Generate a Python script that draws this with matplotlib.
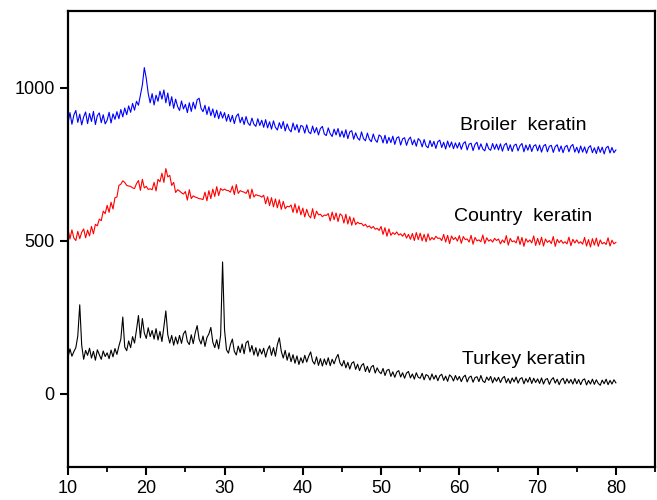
# Importing the libraries
import numpy as np
import matplotlib.pyplot as plt
from matplotlib.ticker import MultipleLocator

plt.rcParams['font.family'] = ['Liberation Sans', 'DejaVu Sans']

# 2-theta positions (degrees), one reading every 0.25 degree
two_theta = np.arange(10, 80.001, 0.25)

# Turkey keratin intensity
turkey = [
    118, 146, 122, 137, 150, 188, 290, 158, 112, 141, 125, 148, 116, 138, 109, 143, 127, 112, 139, 121,
    133, 114, 142, 120, 147, 128, 155, 178, 250, 152, 140, 172, 150, 186, 165, 208, 255, 182, 245, 198,
    180, 215, 186, 206, 178, 212, 175, 203, 170, 218, 270, 192, 165, 190, 158, 185, 162, 190, 164, 195,
    205, 170, 160, 192, 163, 198, 222, 178, 162, 188, 154, 183, 195, 216, 168, 150, 176, 146, 190, 430,
    208, 143, 132, 160, 178, 138, 126, 155, 134, 162, 130, 166, 172, 136, 157, 126, 150, 122, 146, 129,
    148, 119, 143, 156, 125, 150, 122, 160, 182, 138, 116, 141, 109, 133, 104, 127, 99, 123, 95, 117,
    100, 125, 103, 122, 136, 106, 96, 120, 92, 114, 90, 113, 94, 117, 91, 112, 97, 116, 128, 100,
    90, 108, 84, 102, 80, 99, 104, 79, 96, 75, 92, 98, 72, 89, 69, 87, 92, 67, 84, 71,
    65, 82, 59, 76, 79, 56, 71, 53, 70, 75, 54, 68, 50, 67, 72, 51, 64, 47, 68, 53,
    50, 66, 45, 62, 58, 44, 64, 47, 60, 42, 58, 63, 43, 57, 40, 61, 55, 41, 59, 44,
    56, 39, 54, 60, 38, 53, 57, 37, 52, 55, 39, 59, 41, 36, 54, 43, 56, 35, 52, 40,
    53, 36, 50, 56, 35, 49, 33, 51, 38, 54, 34, 48, 52, 32, 49, 37, 53, 33, 50, 36,
    48, 33, 51, 31, 46, 49, 30, 45, 52, 34, 47, 29, 44, 50, 32, 48, 34, 46, 31, 49,
    32, 46, 29, 44, 48, 28, 43, 31, 47, 30, 45, 33, 27, 44, 32, 47, 29, 43, 31, 45,
    35,
]

# Broiler keratin intensity
broiler = [
    884, 918, 880, 910, 925, 886, 913, 878, 904, 920, 882, 915, 889, 922, 879, 908, 917, 885, 911, 881,
    893, 919, 884, 914, 896, 921, 898, 928, 904, 933, 911, 940, 919, 948, 926, 955, 942, 975, 1008, 1065,
    1030, 980, 950, 980, 943, 975, 955, 988, 962, 992, 950, 982, 940, 970, 932, 962, 938, 925, 956, 930,
    945, 918, 950, 922, 952, 930, 960, 965, 932, 921, 942, 912, 937, 908, 930, 902, 926, 898, 921, 900,
    918, 890, 912, 888, 909, 882, 906, 914, 885, 903, 879, 905, 884, 876, 900, 880, 873, 898, 876, 893,
    870, 895, 868, 888, 864, 891, 870, 861, 885, 866, 889, 858, 881, 863, 855, 884, 861, 879, 853, 876,
    873, 851, 878, 855, 849, 874, 852, 869, 845, 866, 873, 848, 843, 868, 849, 840, 864, 845, 866, 839,
    858, 837, 862, 833, 855, 859, 831, 852, 835, 828, 855, 833, 826, 851, 831, 823, 848, 829, 821, 845,
    840, 819, 844, 817, 837, 820, 841, 814, 835, 839, 812, 832, 836, 811, 830, 838, 813, 829, 808, 833,
    826, 806, 830, 809, 803, 827, 807, 824, 801, 823, 828, 804, 821, 799, 825, 805, 822, 800, 819, 802,
    820, 798, 817, 823, 796, 815, 818, 794, 814, 821, 797, 816, 799, 793, 818, 800, 795, 817, 798, 815,
    796, 816, 792, 812, 818, 794, 813, 791, 811, 815, 793, 810, 817, 790, 812, 795, 814, 791, 809, 813,
    793, 812, 789, 809, 814, 790, 808, 811, 788, 807, 813, 791, 809, 787, 806, 811, 790, 808, 814, 789,
    805, 786, 809, 789, 806, 785, 804, 810, 787, 803, 784, 807, 788, 805, 783, 803, 808, 786, 804, 787,
    796,
]

# Country keratin intensity
country = [
    538, 505, 535, 508, 500, 530, 506, 527, 538, 509, 534, 515, 546, 522, 553, 548, 570, 565, 596, 588,
    615, 592, 625, 603, 640, 642, 680, 684, 695, 690, 680, 678, 677, 672, 670, 686, 696, 664, 700, 672,
    677, 667, 669, 666, 690, 662, 700, 692, 720, 690, 735, 708, 713, 680, 690, 657, 666, 662, 656, 652,
    660, 632, 666, 637, 646, 642, 640, 637, 636, 634, 658, 630, 663, 637, 668, 644, 676, 647, 670, 664,
    668, 664, 663, 658, 678, 650, 683, 654, 663, 660, 658, 654, 666, 637, 668, 642, 650, 647, 646, 642,
    648, 620, 643, 614, 640, 610, 636, 607, 633, 602, 628, 604, 612, 610, 616, 592, 620, 590, 613, 584,
    606, 577, 602, 582, 574, 604, 572, 596, 584, 586, 578, 583, 582, 588, 564, 593, 568, 590, 562, 587,
    582, 557, 586, 554, 578, 550, 574, 552, 560, 555, 556, 548, 553, 544, 548, 540, 546, 537, 540, 533,
    546, 520, 542, 514, 538, 517, 526, 520, 528, 518, 522, 514, 524, 508, 520, 504, 523, 500, 526, 503,
    524, 499, 520, 496, 522, 501, 510, 503, 514, 507, 508, 500, 520, 495, 517, 490, 515, 503, 510, 498,
    516, 491, 513, 503, 505, 495, 517, 488, 510, 499, 502, 496, 518, 490, 509, 498, 503, 495, 507, 500,
    505, 489, 502, 493, 516, 485, 507, 496, 499, 492, 514, 487, 510, 481, 506, 495, 502, 492, 515, 484,
    507, 486, 511, 482, 505, 494, 500, 490, 513, 481, 504, 493, 501, 491, 496, 489, 511, 483, 504, 492,
    502, 491, 496, 488, 510, 482, 503, 479, 506, 485, 508, 481, 502, 489, 494, 487, 509, 482, 501, 489,
    494,
]

fig = plt.figure(figsize=(6.57, 5.0), dpi=100)
ax = fig.add_axes([0.1035, 0.066, 0.8935, 0.912])

# plotting the three patterns
ax.plot(two_theta, broiler, color='blue', lw=0.8)
ax.plot(two_theta, country, color='red', lw=0.8)
ax.plot(two_theta, turkey, color='black', lw=0.8)

# labels next to each curve
ax.text(60.1, 876, "Broiler  keratin", fontsize=14, va='center')
ax.text(59.3, 578, "Country  keratin", fontsize=14, va='center')
ax.text(60.3, 111, "Turkey keratin", fontsize=14, va='center')

ax.set_xlim(10, 85)
ax.set_ylim(-240, 1250)
ax.set_xticks([10, 20, 30, 40, 50, 60, 70, 80])
ax.xaxis.set_minor_locator(MultipleLocator(5))
ax.set_yticks([0, 500, 1000])

for s in ax.spines.values():
    s.set_linewidth(1.6)
ax.tick_params(axis='both', which='major', direction='out', length=6, width=1.5, labelsize=13)
ax.tick_params(axis='x', which='minor', direction='out', length=3.5, width=1.3)

fig.savefig('out.png', dpi=100)
